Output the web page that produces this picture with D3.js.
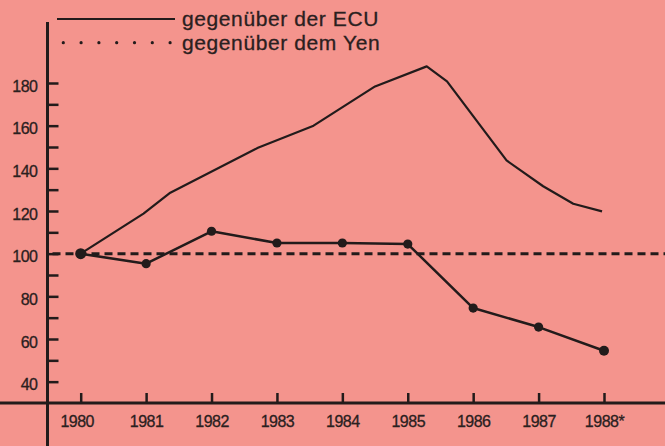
<!DOCTYPE html>
<html>
<head>
<meta charset="utf-8">
<script src="https://cdn.jsdelivr.net/npm/d3@7"></script>
<style>
  body { margin: 0; background: #f4948d; }
  svg { display: block; }
  text { font-family: "Liberation Sans", Arial, sans-serif; fill: #2a2020; }
</style>
</head>
<body>
<div id="chart"></div>
<script>
var years = [1980, 1981, 1982, 1983, 1984, 1985, 1986, 1987, 1988];
var yearLabels = ["1980", "1981", "1982", "1983", "1984", "1985", "1986", "1987", "1988*"];

// gegenüber dem Yen, one value per year
var yenValues = [100, 95.3, 110.5, 105, 105, 104.5, 74.5, 65.6, 54.5];

// gegenüber der ECU, finer steps
var ecuYears = [1980, 1980.96, 1981.37, 1982.71, 1983.56, 1984.5, 1985.29, 1985.6, 1986.51, 1987.07, 1987.53, 1987.97];
var ecuValues = [100, 118.8, 128.6, 149.6, 160.0, 178.4, 187.8, 180.8, 143.7, 131.6, 123.4, 119.8];

var yTicks = [40, 50, 60, 70, 80, 90, 100, 110, 120, 130, 140, 150, 160, 170, 180];
var baseValue = 100;

var legendLabels = ["gegenüber der ECU", "gegenüber dem Yen"];

var svgWidth = 665;
var svgHeight = 446;
var ink = "#221b1b";

var svg = d3.select("#chart")
  .append("svg")
  .attr("width", svgWidth)
  .attr("height", svgHeight);

var x = d3.scaleLinear()
  .domain([1980, 1988])
  .range([80.7, 604]);

var y = d3.scaleLinear()
  .domain([30, 180])
  .range([403, 83]);

var axisX = 47.5;

// dashed 100 line
svg.append("line")
  .attr("x1", axisX + 5)
  .attr("x2", svgWidth)
  .attr("y1", y(baseValue))
  .attr("y2", y(baseValue))
  .attr("stroke", ink)
  .attr("stroke-width", 3)
  .attr("stroke-dasharray", "8,5");

// x axis
var bottomAxis = d3.axisBottom(x)
  .tickValues(years)
  .tickSize(-10)
  .tickPadding(13)
  .tickFormat((d, i) => yearLabels[i]);

var gx = svg.append("g")
  .attr("transform", `translate(0, 403)`)
  .call(bottomAxis);
gx.select(".domain").remove();
gx.selectAll(".tick line").attr("stroke", ink).attr("stroke-width", 2.5);
gx.selectAll(".tick text")
  .attr("font-size", 16)
  .attr("letter-spacing", "-0.5px")
  .attr("stroke", "#2a2020")
  .attr("stroke-width", 0.3)
  .attr("font-family", "Liberation Sans, Arial, sans-serif")
  .attr("fill", "#2a2020");
gx.selectAll(".tick text").filter((d, i) => i === 0).attr("dx", -4);

svg.append("line")
  .attr("x1", 0).attr("x2", svgWidth)
  .attr("y1", 403).attr("y2", 403)
  .attr("stroke", ink)
  .attr("stroke-width", 3);

// y axis
var leftAxis = d3.axisLeft(y)
  .tickValues(yTicks)
  .tickSize(-11)
  .tickPadding(10)
  .tickFormat(d => d % 20 === 0 ? d : "");

var gy = svg.append("g")
  .attr("transform", `translate(${axisX}, 0)`)
  .call(leftAxis);
gy.select(".domain").remove();
gy.selectAll(".tick line").attr("stroke", ink).attr("stroke-width", 2.5);
gy.selectAll(".tick text")
  .attr("font-size", 16)
  .attr("letter-spacing", "-0.5px")
  .attr("stroke", "#2a2020")
  .attr("stroke-width", 0.3)
  .attr("dy", "0.52em")
  .attr("font-family", "Liberation Sans, Arial, sans-serif")
  .attr("fill", "#2a2020");

svg.append("line")
  .attr("x1", axisX).attr("x2", axisX)
  .attr("y1", 22).attr("y2", svgHeight)
  .attr("stroke", ink)
  .attr("stroke-width", 3);

// ECU line
var ecuData = ecuYears.map((yr, i) => ({ year: yr, value: ecuValues[i] }));
var line = d3.line()
  .x(d => x(d.year))
  .y(d => y(d.value));

svg.append("path")
  .datum(ecuData)
  .attr("fill", "none")
  .attr("stroke", ink)
  .attr("stroke-width", 2.2)
  .attr("stroke-linejoin", "round")
  .attr("d", line);

// Yen line with dots
var yenData = years.map((yr, i) => ({ year: yr, value: yenValues[i] }));
svg.append("path")
  .datum(yenData)
  .attr("fill", "none")
  .attr("stroke", ink)
  .attr("stroke-width", 2.5)
  .attr("stroke-linejoin", "round")
  .attr("d", line);

svg.selectAll("circle.yen")
  .data(yenData)
  .enter()
  .append("circle")
  .attr("class", "yen")
  .attr("cx", d => x(d.year))
  .attr("cy", d => y(d.value))
  .attr("r", (d, i) => i === 0 ? 5.5 : (i === yenData.length - 1 ? 5 : 4.6))
  .attr("fill", ink);

// legend
svg.append("line")
  .attr("x1", 57).attr("x2", 175)
  .attr("y1", 19).attr("y2", 19)
  .attr("stroke", ink)
  .attr("stroke-width", 2.2);

svg.selectAll("circle.legdot")
  .data(d3.range(7))
  .enter()
  .append("circle")
  .attr("class", "legdot")
  .attr("cx", d => 63.3 + d * 17.8)
  .attr("cy", 42.7)
  .attr("r", 1.6)
  .attr("fill", ink);

svg.selectAll("text.legend")
  .data(legendLabels)
  .enter()
  .append("text")
  .attr("class", "legend")
  .attr("x", 182)
  .attr("y", (d, i) => 26 + i * 23.5)
  .attr("font-size", 21)
  .attr("letter-spacing", "0.6px")
  .attr("stroke", "#2a2020")
  .attr("stroke-width", 0.3)
  .text(d => d);
</script>
</body>
</html>
